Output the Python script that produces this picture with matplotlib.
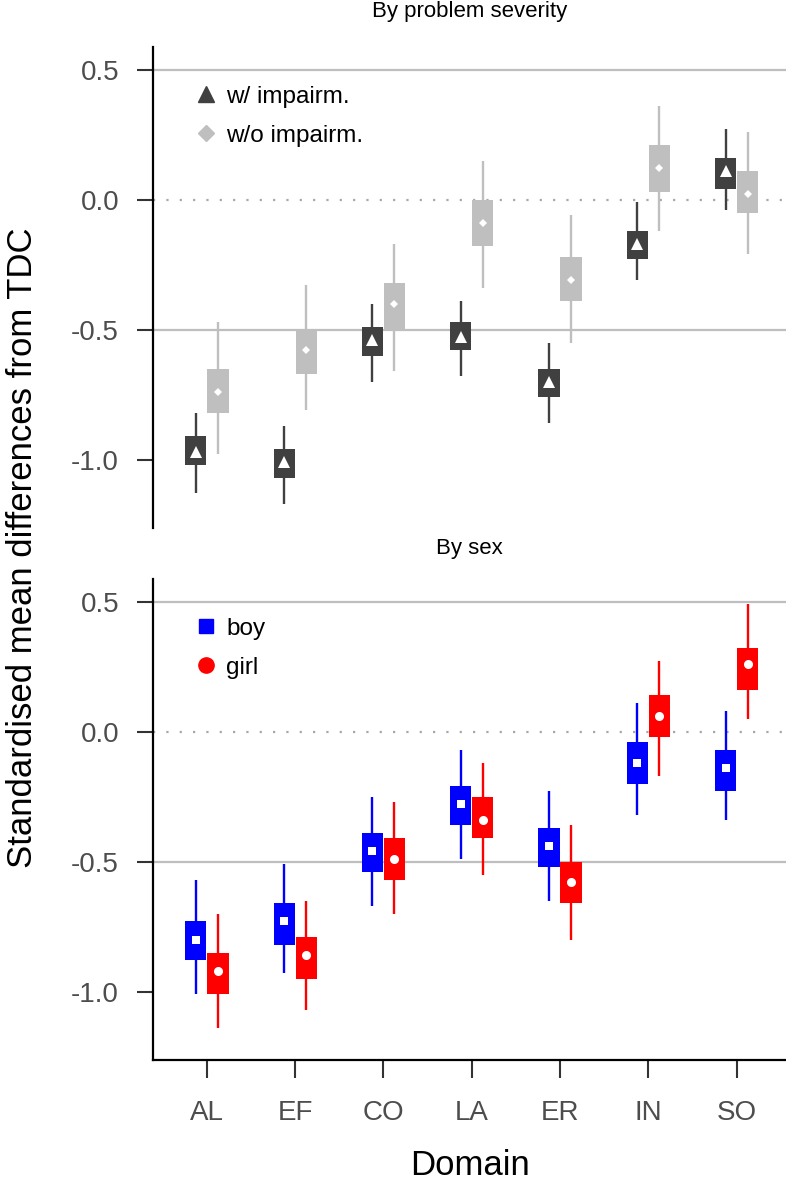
import matplotlib.pyplot as plt
from matplotlib.lines import Line2D
import numpy as np

plt.rcParams["font.family"] = ["Liberation Sans", "DejaVu Sans"]

domains = ["AL", "EF", "CO", "LA", "ER", "IN", "SO"]

# By problem severity: with impairment
imp_mean = [-0.97, -1.01, -0.54, -0.53, -0.70, -0.17, 0.11]
imp_box_lo = [-1.02, -1.07, -0.60, -0.58, -0.76, -0.23, 0.04]
imp_box_hi = [-0.91, -0.96, -0.49, -0.47, -0.65, -0.12, 0.16]
imp_ci_lo = [-1.13, -1.17, -0.70, -0.68, -0.86, -0.31, -0.04]
imp_ci_hi = [-0.82, -0.87, -0.40, -0.39, -0.55, -0.01, 0.27]

# By problem severity: without impairment
noimp_mean = [-0.74, -0.58, -0.40, -0.09, -0.31, 0.12, 0.02]
noimp_box_lo = [-0.82, -0.67, -0.50, -0.18, -0.39, 0.03, -0.05]
noimp_box_hi = [-0.65, -0.50, -0.32, 0.00, -0.22, 0.21, 0.11]
noimp_ci_lo = [-0.98, -0.81, -0.66, -0.34, -0.55, -0.12, -0.21]
noimp_ci_hi = [-0.47, -0.33, -0.17, 0.15, -0.06, 0.36, 0.26]

# By sex: boys
boy_mean = [-0.80, -0.73, -0.46, -0.28, -0.44, -0.12, -0.14]
boy_box_lo = [-0.88, -0.82, -0.54, -0.36, -0.52, -0.20, -0.23]
boy_box_hi = [-0.73, -0.66, -0.39, -0.21, -0.37, -0.04, -0.07]
boy_ci_lo = [-1.01, -0.93, -0.67, -0.49, -0.65, -0.32, -0.34]
boy_ci_hi = [-0.57, -0.51, -0.25, -0.07, -0.23, 0.11, 0.08]

# By sex: girls
girl_mean = [-0.92, -0.86, -0.49, -0.34, -0.58, 0.06, 0.26]
girl_box_lo = [-1.01, -0.95, -0.57, -0.41, -0.66, -0.02, 0.16]
girl_box_hi = [-0.85, -0.79, -0.41, -0.25, -0.50, 0.14, 0.32]
girl_ci_lo = [-1.14, -1.07, -0.70, -0.55, -0.80, -0.17, 0.05]
girl_ci_hi = [-0.70, -0.65, -0.27, -0.12, -0.36, 0.27, 0.49]

x = np.arange(1, len(domains) + 1)
dodge = 0.125
box_w = 0.24


def draw_group(ax, xpos, ci_lo, ci_hi, box_lo, box_hi, mean, color, marker, msize):
    ax.vlines(xpos, ci_lo, ci_hi, color=color, lw=1.7, zorder=2)
    ax.bar(xpos, np.subtract(box_hi, box_lo), bottom=box_lo, width=box_w,
           color=color, zorder=3)
    ax.plot(xpos, mean, ls="none", marker=marker, color="white",
            markeredgewidth=0, ms=msize, zorder=4)


def style_axes(ax, show_x):
    ax.set_xlim(0.39, 7.56)
    ax.set_ylim(-1.263, 0.587)
    ax.set_yticks([0.5, 0.0, -0.5, -1.0])
    ax.set_yticklabels(["0.5", "0.0", "-0.5", "-1.0"])
    for v in [0.5, -0.5]:
        ax.axhline(v, color="#bebebe", lw=1.6, zorder=1)
    ax.axhline(0.0, color="#a8a8a8", lw=1.6, ls=(0, (1, 5)), zorder=1)
    ax.spines["top"].set_visible(False)
    ax.spines["right"].set_visible(False)
    ax.spines["left"].set_linewidth(1.6)
    ax.tick_params(axis="y", length=11.5, width=1.5, color="#333333",
                   labelsize=20, labelcolor="#4d4d4d", pad=13)
    if show_x:
        ax.spines["bottom"].set_linewidth(1.6)
        ax.set_xticks(x)
        ax.set_xticklabels(domains)
        ax.tick_params(axis="x", length=13, width=1.5, color="#333333",
                       labelsize=20, labelcolor="#4d4d4d", pad=16)
    else:
        ax.spines["bottom"].set_visible(False)
        ax.set_xticks([])


fig = plt.figure(figsize=(7.86, 11.84), dpi=100)
ax1 = fig.add_axes([0.1947, 0.5541, 0.8053, 0.4062])
ax2 = fig.add_axes([0.1947, 0.1047, 0.8053, 0.4063])

dark = "#404040"
light = "#bfbfbf"
draw_group(ax1, x - dodge, imp_ci_lo, imp_ci_hi, imp_box_lo, imp_box_hi,
           imp_mean, dark, "^", 9)
draw_group(ax1, x + dodge, noimp_ci_lo, noimp_ci_hi, noimp_box_lo, noimp_box_hi,
           noimp_mean, light, "D", 4.5)
style_axes(ax1, False)
h1 = [Line2D([], [], ls="none", marker="^", color=dark, ms=12),
      Line2D([], [], ls="none", marker="D", color=light, ms=8)]
ax1.legend(h1, ["w/ impairm.", "w/o impairm."], loc="upper left",
           bbox_to_anchor=(0.045, 0.945), frameon=False, fontsize=17.5,
           handlelength=1.0, handletextpad=0.35, labelspacing=0.7, borderpad=0)

draw_group(ax2, x - dodge, boy_ci_lo, boy_ci_hi, boy_box_lo, boy_box_hi,
           boy_mean, "#0000ff", "s", 6)
draw_group(ax2, x + dodge, girl_ci_lo, girl_ci_hi, girl_box_lo, girl_box_hi,
           girl_mean, "#ff0000", "o", 6.5)
style_axes(ax2, True)
h2 = [Line2D([], [], ls="none", marker="s", color="#0000ff", ms=10),
      Line2D([], [], ls="none", marker="o", color="#ff0000", ms=11)]
ax2.legend(h2, ["boy", "girl"], loc="upper left",
           bbox_to_anchor=(0.045, 0.945), frameon=False, fontsize=17.5,
           handlelength=1.0, handletextpad=0.35, labelspacing=0.7, borderpad=0)

fig.text(0.5974, 0.990, "By problem severity", ha="center", va="center", fontsize=16)
fig.text(0.5974, 0.537, "By sex", ha="center", va="center", fontsize=16)
fig.text(0.028, 0.537, "Standardised mean differences from TDC", rotation=90,
         ha="center", va="center", fontsize=25)
fig.text(0.5974, 0.002, "Domain", ha="center", va="bottom", fontsize=25)

fig.savefig("out.png", dpi=100)
